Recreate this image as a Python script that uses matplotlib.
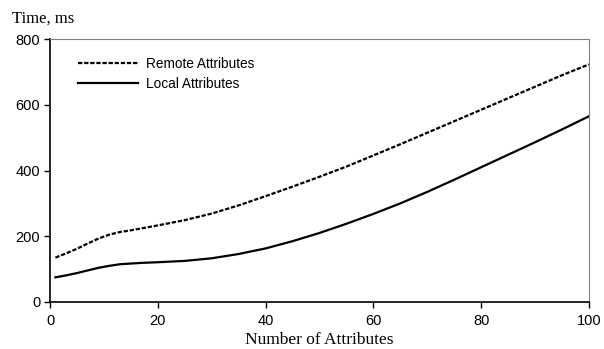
import matplotlib
matplotlib.use("Agg")
import matplotlib.pyplot as plt

# numero di attributi
x = [1, 3, 5, 7, 9, 11, 13, 15, 17, 20, 25, 30, 35, 40, 45, 50, 55, 60, 65, 70, 75, 80, 85, 90, 95, 100]

# tempi (ms)
remote = [135, 148, 162, 178, 193, 205, 213, 218, 224, 233, 249, 269, 294, 322, 351, 381, 412, 446, 480, 515, 550, 585, 620, 655, 690, 723]
local = [75, 81, 88, 96, 104, 110, 115, 117, 119, 121, 125, 133, 146, 163, 185, 210, 238, 268, 300, 335, 372, 410, 448, 486, 525, 565]

fig = plt.figure(figsize=(6.04, 3.49), dpi=100)
ax = fig.add_axes([0.0828, 0.1347, 0.8922, 0.7533])

ax.plot(x, remote, color='black', linestyle=(0, (1.95, 0.8)), linewidth=1.6, label='Remote Attributes')
ax.plot(x, local, color='black', linestyle='-', linewidth=1.6, label='Local Attributes')

ax.set_xlim(0, 100)
ax.set_ylim(0, 800)
ax.set_xticks([0, 20, 40, 60, 80, 100])
ax.set_yticks([0, 200, 400, 600, 800])

for lab in ax.get_xticklabels() + ax.get_yticklabels():
    lab.set_family('Liberation Sans')
    lab.set_fontsize(10.5)
ax.tick_params(direction='out', length=4, width=1, pad=3)
ax.tick_params(axis='x', pad=5)

ax.spines['top'].set_color('gray')
ax.spines['right'].set_color('gray')
ax.spines['left'].set_linewidth(1.2)
ax.spines['bottom'].set_linewidth(1.2)

ax.set_xlabel('Number of Attributes', family='Liberation Serif', fontsize=12.5, labelpad=2.5)
fig.text(0.02, 0.948, 'Time, ms', family='Liberation Serif', fontsize=12, va='center')

ax.legend(loc='upper left', bbox_to_anchor=(0.03, 0.978), frameon=False,
          prop={'family': 'Liberation Sans', 'size': 9.8}, handlelength=4.4,
          handletextpad=0.6, labelspacing=0.4)

plt.savefig('out.png')
plt.close()
